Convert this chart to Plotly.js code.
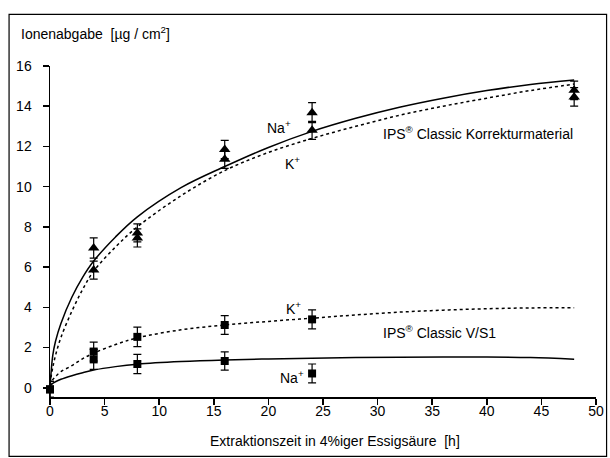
<!DOCTYPE html>
<html><head><meta charset="utf-8">
<script src="https://cdn.plot.ly/plotly-3.0.1.min.js"></script>
<style>html,body{margin:0;padding:0;background:#fff}</style>
</head><body><div id="chart" style="width:610px;height:458px"></div>
<script>
// Measured points (hours, µg/cm²)
const timesKorr = [4, 8, 16, 24, 48];
const korrNa = [6.95, 7.7, 11.85, 13.68, 14.79];
const korrNaErr = [0.5, 0.45, 0.45, 0.5, 0.46];
const korrK = [5.85, 7.45, 11.36, 12.8, 14.46];
const korrKErr = [0.45, 0.45, 0.45, 0.45, 0.46];

const timesVS = [0, 4, 8, 16, 24];
const vsK = [-0.08, 1.8, 2.53, 3.12, 3.4];
const vsKErr = [0.4, 0.47, 0.48, 0.47, 0.47];
const vsNa = [-0.08, 1.41, 1.18, 1.33, 0.71];
const vsNaErr = [0.4, 0.5, 0.48, 0.45, 0.47];

// Fitted curves
const curveX = [0, 0.25, 0.5, 1, 2, 3, 4, 6, 8, 12, 16, 20, 24, 28, 32, 36, 40, 44, 48];
const curveKorrNa = [0, 1.6, 2.3, 3.2, 4.5, 5.5, 6.3, 7.5, 8.5, 9.95, 11.0, 11.95, 12.75, 13.4, 13.95, 14.4, 14.78, 15.08, 15.3];
const curveKorrK = [0.2, 1.0, 1.6, 2.5, 3.8, 4.9, 5.8, 7.0, 8.0, 9.55, 10.8, 11.7, 12.4, 13.0, 13.55, 14.0, 14.4, 14.78, 15.1];
const curveVsK = [0.1, 0.4, 0.55, 0.8, 1.1, 1.45, 1.72, 2.15, 2.48, 2.88, 3.12, 3.3, 3.46, 3.62, 3.76, 3.86, 3.93, 3.97, 3.98];
const curveVsNa = [0.1, 0.22, 0.3, 0.42, 0.6, 0.75, 0.88, 1.05, 1.17, 1.3, 1.38, 1.43, 1.47, 1.5, 1.52, 1.53, 1.53, 1.5, 1.42];

const xTicks = [0, 5, 10, 15, 20, 25, 30, 35, 40, 45, 50];
const yTicks = [0, 2, 4, 6, 8, 10, 12, 14, 16];

const FONT = 'Liberation Sans, Arial, Helvetica, sans-serif';
const FS = 14;
const W = 610, H = 458;
const mL = 49.5, mR = 13.6, mT = 65.7, mB = 61;
const pw = W - mL - mR, ph = H - mT - mB;
const px = v => (v - mL) / pw;
const py = v => (H - mB - v) / ph;

function err(arr) {
  return {type: 'data', array: arr, visible: true, color: '#000', thickness: 1.2, width: 4};
}
function curve(y, dash) {
  return {x: curveX, y: y, mode: 'lines', line: {color: '#000', width: 1.5, dash: dash, shape: 'spline', smoothing: 1}, hoverinfo: 'skip'};
}
function pts(x, y, e, sym, size) {
  return {x: x, y: y, mode: 'markers', marker: {symbol: sym, color: '#000', size: size}, error_y: err(e), cliponaxis: false};
}

const data = [
  curve(curveKorrNa, 'solid'),
  curve(curveKorrK, 'dot'),
  curve(curveVsK, 'dot'),
  curve(curveVsNa, 'solid'),
  pts(timesKorr, korrNa, korrNaErr, 'triangle-up', 10),
  pts(timesKorr, korrK, korrKErr, 'triangle-up', 10),
  pts(timesVS, vsK, vsKErr, 'square', 8),
  pts(timesVS, vsNa, vsNaErr, 'square', 8)
];

const ann = (x, y, text, opts) => Object.assign({x: x, y: y, xref: 'x', yref: 'y', text: text, showarrow: false, font: {family: FONT, size: FS, color: '#000'}}, opts || {});

const layout = {
  width: W, height: H,
  margin: {l: mL, r: mR, t: mT, b: mB, pad: 0},
  paper_bgcolor: '#fff', plot_bgcolor: '#fff',
  showlegend: false,
  font: {family: FONT, size: FS, color: '#000'},
  xaxis: {
    range: [0, 50], tickvals: xTicks, ticktext: xTicks.map(String),
    showline: true, linecolor: '#000', linewidth: 1.5,
    ticks: 'outside', ticklen: 6, tickwidth: 1.5, tickcolor: '#000',
    showgrid: false, zeroline: false, fixedrange: true,
    tickfont: {family: FONT, size: FS, color: '#000'}, ticklabelstandoff: -5
  },
  yaxis: {
    range: [-0.46, 16], tickvals: yTicks, ticktext: yTicks.map(String),
    showline: true, linecolor: '#000', linewidth: 1.5,
    ticks: 'outside', ticklen: 6, tickwidth: 1.5, tickcolor: '#000',
    showgrid: false, zeroline: false, fixedrange: true,
    tickfont: {family: FONT, size: FS, color: '#000'}, ticklabelstandoff: 8
  },
  shapes: [{
    type: 'rect', xref: 'paper', yref: 'paper',
    x0: px(8.5), x1: px(607), y0: py(456.5), y1: py(14),
    line: {color: '#000', width: 1.2}, fillcolor: 'rgba(0,0,0,0)', layer: 'below'
  }],
  annotations: [
    {xref: 'paper', yref: 'paper', x: px(18), y: py(33), xanchor: 'left', yanchor: 'middle',
     text: 'Ionenabgabe  [µg / cm<sup>2</sup>]', showarrow: false, font: {family: FONT, size: FS, color: '#000'}},
    {xref: 'paper', yref: 'paper', x: px(335), y: py(441), xanchor: 'center', yanchor: 'middle',
     text: 'Extraktionszeit in 4%iger Essigsäure  [h]', showarrow: false, font: {family: FONT, size: FS, color: '#000'}},
    ann(21.0, 12.95, 'Na<sup>+</sup>'),
    ann(22.2, 11.2, 'K<sup>+</sup>'),
    ann(30.3, 12.65, 'IPS<sup>®</sup> Classic Korrekturmaterial', {xanchor: 'left'}),
    ann(22.3, 3.95, 'K<sup>+</sup>'),
    ann(30.3, 2.75, 'IPS<sup>®</sup> Classic V/S1', {xanchor: 'left'}),
    ann(22.2, 0.53, 'Na<sup>+</sup>')
  ]
};

Plotly.newPlot('chart', data, layout, {displayModeBar: false, staticPlot: true});
</script>
</body></html>
